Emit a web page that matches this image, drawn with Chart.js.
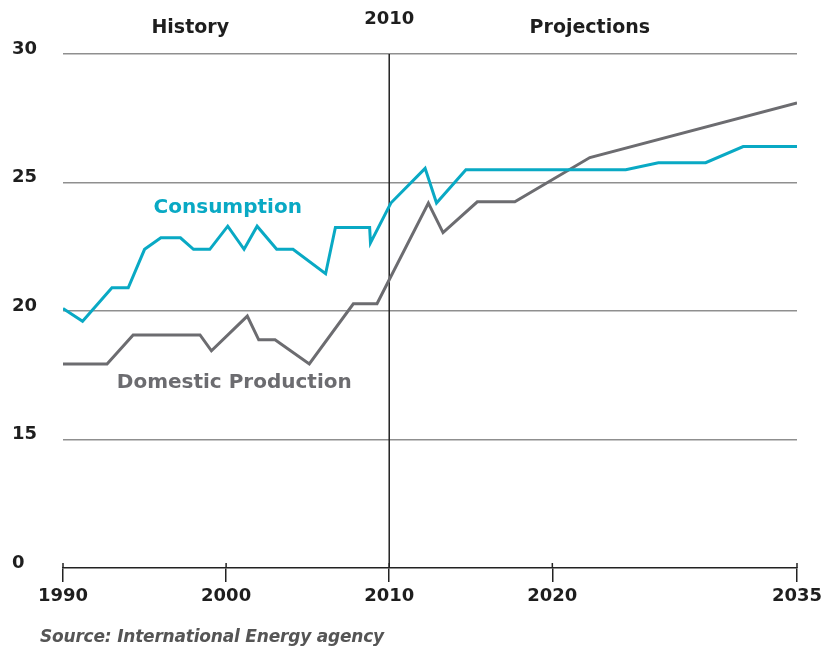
<!DOCTYPE html>
<html>
<head>
<meta charset="utf-8">
<script src="https://cdn.jsdelivr.net/npm/chart.js@4.4.1/dist/chart.umd.min.js"></script>
<style>
  html, body { margin: 0; padding: 0; background: #fff; }
  #wrap { position: relative; width: 821px; height: 649px; }
  #source {
    position: absolute; left: 40px; top: 626px;
    font: italic bold 17px "DejaVu Sans", sans-serif; color: #555;
    letter-spacing: -0.2px;
  }
</style>
</head>
<body>
<div id="wrap">
  <canvas id="chart" width="821" height="649"></canvas>
  <div id="source">Source: International Energy agency</div>
</div>
<script>
// Consommation et production
const consYears = [1990, 1991.2, 1993, 1994, 1995, 1996, 1997.2, 1998, 1999, 2000.1, 2001.1, 2001.9, 2003.1, 2004.1, 2006.1, 2006.7, 2008.8, 2008.85, 2010.1, 2012.2, 2012.9, 2014.7, 2024.5, 2026.5, 2029.4, 2031.7, 2035];
const consValues = [20.1, 19.6, 20.9, 20.9, 22.4, 22.85, 22.85, 22.4, 22.4, 23.3, 22.4, 23.3, 22.4, 22.4, 21.45, 23.25, 23.25, 22.65, 24.2, 25.55, 24.2, 25.5, 25.5, 25.77, 25.77, 26.4, 26.4];

const prodYears = [1990, 1992.7, 1994.3, 1998.4, 1999.1, 2001.3, 2002.0, 2003.0, 2005.1, 2007.8, 2009.25, 2012.4, 2013.3, 2015.4, 2017.7, 2022.3, 2035];
const prodValues = [17.94, 17.94, 19.07, 19.07, 18.45, 19.8, 18.88, 18.88, 17.94, 20.28, 20.28, 24.2, 23.05, 24.25, 24.25, 25.97, 28.1];

// Axes : l'axe Y est coupé, le bas (10) est affiché comme "0"
const xTicks = [1990, 2000, 2010, 2020, 2035];
const yTicks = [10, 15, 20, 25, 30];
const yTickLabels = ["0", "15", "20", "25", "30"];

const splitYear = 2010;

const colors = {
  cons: "#09a9c4",
  prod: "#6c6c70",
  grid: "#8f8f8f",
  axis: "#222222",
  text: "#1e1e1e"
};

Chart.defaults.font.family = "'DejaVu Sans', sans-serif";

function toPoints(xs, ys) {
  return xs.map((x, i) => ({ x: x, y: ys[i] }));
}

// Annotations : ligne 2010, titres de zones, noms des séries
const annotations = {
  id: "annotations",
  beforeDatasetsDraw(chart) {
    const { ctx, chartArea, scales } = chart;
    const x = scales.x.getPixelForValue(splitYear);
    ctx.save();
    ctx.strokeStyle = colors.axis;
    ctx.lineWidth = 1.5;
    ctx.beginPath();
    ctx.moveTo(x, chartArea.top);
    ctx.lineTo(x, chartArea.bottom);
    ctx.stroke();
    // petits traits au-dessus de l'axe
    xTicks.forEach((t) => {
      const px = scales.x.getPixelForValue(t);
      ctx.beginPath();
      ctx.moveTo(px, chartArea.bottom - 5);
      ctx.lineTo(px, chartArea.bottom);
      ctx.stroke();
    });
    ctx.restore();
  },
  afterDatasetsDraw(chart) {
    const { ctx, scales } = chart;
    const X = (v) => scales.x.getPixelForValue(v);
    const Y = (v) => scales.y.getPixelForValue(v);
    ctx.save();
    ctx.textAlign = "center";
    ctx.textBaseline = "middle";
    ctx.font = "bold 19px 'DejaVu Sans', sans-serif";
    ctx.fillStyle = colors.text;
    ctx.fillText("History", X(1997.8), 28);
    ctx.fillText("Projections", X(2022.3), 28);
    ctx.font = "bold 18px 'DejaVu Sans', sans-serif";
    ctx.fillText(String(splitYear), X(splitYear), 19);

    ctx.font = "bold 20px 'DejaVu Sans', sans-serif";
    ctx.fillStyle = colors.cons;
    ctx.fillText("Consumption", X(2000.1), Y(24.0));
    ctx.fillStyle = colors.prod;
    ctx.fillText("Domestic Production", X(2000.5), Y(17.2));
    ctx.restore();
  }
};

const ctx = document.getElementById("chart").getContext("2d");
new Chart(ctx, {
  type: "line",
  data: {
    datasets: [
      {
        label: "Consumption",
        data: toPoints(consYears, consValues),
        borderColor: colors.cons,
        borderWidth: 3,
        pointRadius: 0,
        tension: 0
      },
      {
        label: "Domestic Production",
        data: toPoints(prodYears, prodValues),
        borderColor: colors.prod,
        borderWidth: 3,
        pointRadius: 0,
        tension: 0
      }
    ]
  },
  options: {
    responsive: false,
    animation: false,
    layout: { padding: { top: 54, right: 24, left: 12, bottom: 0 } },
    plugins: {
      legend: { display: false },
      tooltip: { enabled: false }
    },
    scales: {
      x: {
        type: "linear",
        min: 1990,
        max: 2035,
        afterBuildTicks: (scale) => {
          scale.ticks = xTicks.map((v) => ({ value: v }));
        },
        afterFit: (scale) => {
          scale.height = 81;
          scale.paddingLeft = 0;
          scale.paddingRight = 0;
        },
        grid: {
          drawOnChartArea: false,
          color: colors.axis,
          lineWidth: 1.5,
          tickLength: 14
        },
        border: { display: true, color: colors.axis, width: 1.5 },
        ticks: {
          color: colors.text,
          padding: 4,
          maxRotation: 0,
          font: { size: 18, weight: "bold" },
          callback: (v) => String(v)
        }
      },
      y: {
        type: "linear",
        min: 10,
        max: 30,
        afterBuildTicks: (scale) => {
          scale.ticks = yTicks.map((v) => ({ value: v }));
        },
        afterFit: (scale) => { scale.width = 51; },
        grid: {
          drawTicks: false,
          lineWidth: 1.5,
          color: (c) => (c.tick && c.tick.value === yTicks[0] ? "rgba(0,0,0,0)" : colors.grid)
        },
        border: { display: false },
        ticks: {
          color: colors.text,
          crossAlign: "far",
          padding: 0,
          labelOffset: -5,
          font: { size: 18, weight: "bold" },
          callback: (v) => yTickLabels[yTicks.indexOf(v)]
        }
      }
    }
  },
  plugins: [annotations]
});
</script>
</body>
</html>
